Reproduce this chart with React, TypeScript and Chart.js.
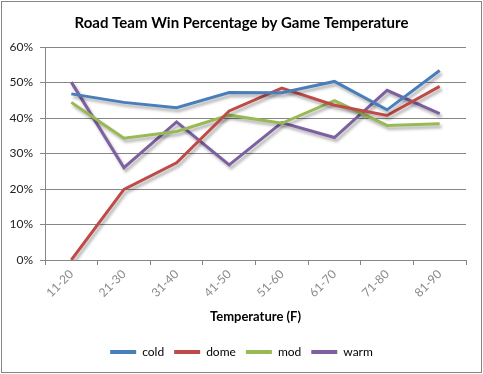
import React, { useEffect, useRef } from 'react';
import { Chart, registerables } from 'chart.js';

Chart.register(...registerables);

const categories = ['11-20', '21-30', '31-40', '41-50', '51-60', '61-70', '71-80', '81-90'];
const cold = [46.8, 44.4, 42.9, 47.2, 47.1, 50.3, 42.3, 53.4];
const dome = [0, 19.9, 27.4, 42.0, 48.4, 43.6, 40.7, 48.9];
const mod = [44.4, 34.3, 36.2, 40.8, 38.5, 44.9, 37.9, 38.4];
const warm = [50.1, 26.0, 38.9, 26.8, 38.7, 34.5, 47.8, 41.2];

const FONT = 'Lato, "Open Sans", sans-serif';

const framePlugin = {
  id: 'frame',
  beforeDraw(chart: any) {
    const ctx = chart.ctx;
    ctx.save();
    ctx.fillStyle = '#ffffff';
    ctx.fillRect(0, 0, chart.width, chart.height);
    ctx.restore();
  },
  afterDraw(chart: any) {
    const ctx = chart.ctx;
    ctx.save();
    ctx.strokeStyle = '#868686';
    ctx.lineWidth = 1;
    ctx.strokeRect(1.5, 1.5, 480, 371);
    ctx.restore();
  },
};

const shadowPlugin = {
  id: 'lineShadow',
  beforeDatasetDraw(chart: any) {
    const ctx = chart.ctx;
    ctx.save();
    ctx.shadowColor = 'rgba(0,0,0,0.3)';
    ctx.shadowBlur = 3;
    ctx.shadowOffsetX = 2;
    ctx.shadowOffsetY = 3;
  },
  afterDatasetDraw(chart: any) {
    chart.ctx.restore();
  },
};

export default function App() {
  const ref = useRef<HTMLCanvasElement>(null);
  useEffect(() => {
    const mk = (label: string, data: number[], color: string) => ({
      label,
      data,
      borderColor: color,
      backgroundColor: color,
      borderWidth: 3,
      pointRadius: 0,
      tension: 0,
      fill: false,
      yAxisID: 'y',
    });
    const defaultLabels = Chart.defaults.plugins.legend.labels.generateLabels;
    const chart = new Chart(ref.current as HTMLCanvasElement, {
      type: 'line',
      data: {
        labels: categories,
        datasets: [
          mk('cold', cold, '#4A7EBB'),
          mk('dome', dome, '#BE4B48'),
          mk('mod', mod, '#98B954'),
          mk('warm', warm, '#7D60A0'),
        ],
      },
      options: {
        responsive: false,
        animation: false,
        devicePixelRatio: 1,
        layout: { padding: { top: 0, right: 0, bottom: 6, left: 0 } },
        plugins: {
          title: {
            display: true,
            text: 'Road Team Win Percentage by Game Temperature',
            color: '#000',
            font: { family: FONT, size: 15, weight: 'bold' },
            padding: { top: 14, bottom: 15 },
          },
          legend: {
            position: 'bottom',
            labels: {
              usePointStyle: true,
              pointStyle: 'line',
              pointStyleWidth: 26,
              color: '#000',
              font: { family: FONT, size: 12 },
              padding: 10,
              generateLabels: (c: any) =>
                defaultLabels(c).map((it: any) => ({ ...it, lineWidth: 4 })),
            },
          },
          tooltip: { enabled: false },
        },
        scales: {
          x: {
            offset: true,
            grid: {
              offset: true,
              drawOnChartArea: false,
              drawTicks: true,
              tickLength: 5,
              color: '#868686',
            },
            border: { color: '#868686' },
            ticks: {
              minRotation: 45,
              maxRotation: 45,
              color: '#8a8a8a',
              font: { family: FONT, size: 12 },
              padding: 2,
            },
            title: {
              display: true,
              text: 'Temperature (F)',
              color: '#000',
              font: { family: FONT, size: 13, weight: 'bold' },
              padding: { top: 4, bottom: 11 },
            },
            afterFit: (s: any) => {
              s.height = 76;
            },
          },
          y: {
            min: 0,
            max: 60,
            ticks: {
              stepSize: 10,
              callback: (v: any) => v + '%',
              color: '#222',
              font: { family: FONT, size: 12 },
              padding: 7,
            },
            grid: { color: '#868686', tickLength: 5 },
            border: { color: '#868686' },
            afterFit: (s: any) => {
              s.width = 45;
            },
          },
          yRight: {
            position: 'right',
            min: 0,
            max: 60,
            grid: { display: false },
            border: { display: false },
            ticks: { display: false },
            afterFit: (s: any) => {
              s.width = 17;
            },
          },
        },
      },
      plugins: [framePlugin, shadowPlugin],
    } as any);
    return () => chart.destroy();
  }, []);
  return (
    <div style={{ position: 'absolute', left: 0, top: 0, width: 483, height: 374, background: '#fff' }}>
      <canvas ref={ref} width={483} height={374} style={{ display: 'block' }} />
    </div>
  );
}
